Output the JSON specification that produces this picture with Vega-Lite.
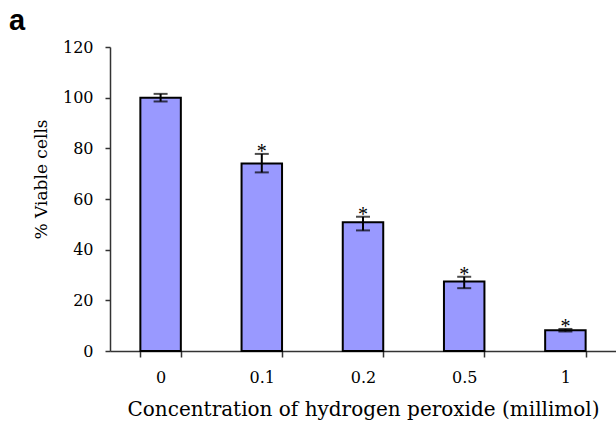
{
  "$schema": "https://vega.github.io/schema/vega-lite/v6.json",
  "width": 506,
  "height": 304,
  "autosize": {"type": "none"},
  "padding": {"left": 110, "top": 47, "right": 0, "bottom": 75},
  "background": "white",
  "title": {"text": "a", "anchor": "start", "frame": "group", "dx": -101, "offset": 0, "dy": 20, "baseline": "alphabetic", "font": "Liberation Sans", "fontSize": 29, "fontWeight": "bold", "color": "black"},
  "config": {"view": {"stroke": null}},
  "data": {"values": [
    {"conc": "0", "mean": 100, "lo": 98.5, "hi": 101.5},
    {"conc": "0.1", "mean": 74, "lo": 70.5, "hi": 77.8},
    {"conc": "0.2", "mean": 50.8, "lo": 47.6, "hi": 53},
    {"conc": "0.5", "mean": 27.4, "lo": 24.8, "hi": 29.3},
    {"conc": "1", "mean": 8.2, "lo": 7.7, "hi": 8.7}
  ]},
  "encoding": {
    "x": {"field": "conc", "type": "nominal", "sort": null,
      "scale": {"paddingInner": 0.6, "paddingOuter": 0.3},
      "axis": {"title": "Concentration of hydrogen peroxide (millimol)", "labelAngle": 0, "tickBand": "extent",
        "labelFont": "DejaVu Serif", "labelFontSize": 16, "labelColor": "black", "labelPadding": 12,
        "titleFont": "DejaVu Serif", "titleFontSize": 20, "titleFontWeight": "normal", "titleColor": "black", "titlePadding": 14,
        "domainColor": "#333", "tickColor": "#333", "tickSize": 6, "domainWidth": 1.5, "tickWidth": 1.5}}
  },
  "layer": [
    {"mark": {"type": "bar", "color": "#9999FF", "stroke": "black", "strokeWidth": 2},
     "encoding": {"y": {"field": "mean", "type": "quantitative",
       "scale": {"domain": [0, 120]},
       "axis": {"title": "% Viable cells", "values": [0, 20, 40, 60, 80, 100, 120], "grid": false,
         "labelFont": "DejaVu Serif", "labelFontSize": 16, "labelColor": "black", "labelPadding": 12,
         "titleFont": "DejaVu Serif", "titleFontSize": 17, "titleFontWeight": "normal", "titleColor": "black", "titlePadding": 12, "titleY": 132,
         "domainColor": "#333", "tickColor": "#333", "tickSize": 5, "domainWidth": 1.5, "tickWidth": 1.5}}}},
    {"mark": {"type": "rule", "color": "black", "strokeWidth": 2},
     "encoding": {"y": {"field": "lo", "type": "quantitative"}, "y2": {"field": "hi"}}},
    {"mark": {"type": "tick", "color": "black", "thickness": 2, "size": 14, "orient": "horizontal"},
     "encoding": {"y": {"field": "lo", "type": "quantitative"}}},
    {"mark": {"type": "tick", "color": "black", "thickness": 2, "size": 14, "orient": "horizontal"},
     "encoding": {"y": {"field": "hi", "type": "quantitative"}}},
    {"transform": [{"filter": "datum.conc != '0'"}],
     "mark": {"type": "text", "text": "*", "font": "Liberation Serif", "fontSize": 20, "baseline": "alphabetic", "dy": 4, "color": "black"},
     "encoding": {"y": {"field": "hi", "type": "quantitative"}}}
  ]
}
